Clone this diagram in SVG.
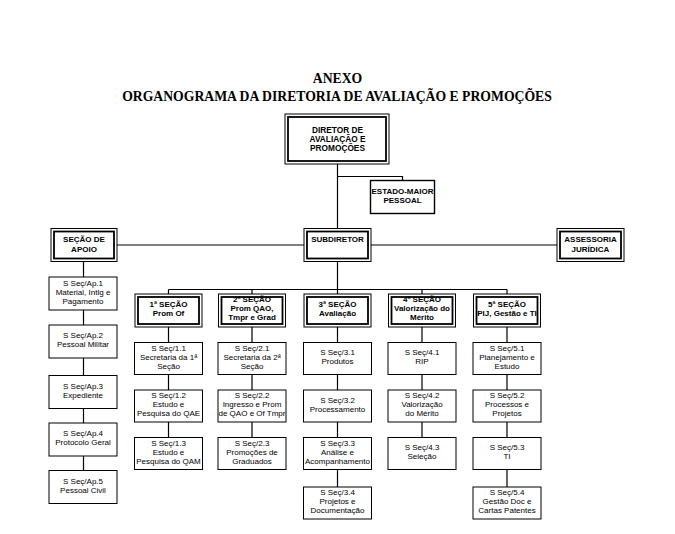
<svg xmlns="http://www.w3.org/2000/svg" width="675" height="534" viewBox="0 0 675 534">
<style>
.bg{fill:#fff}
.o{fill:#fff;stroke:#000;stroke-width:1}
.i{fill:none;stroke:#000;stroke-width:1.8}
.s{fill:#fff;stroke:#000;stroke-width:1}
.em{fill:#fff;stroke:#000;stroke-width:1.4}
.c{fill:none;stroke:#000;stroke-width:1.2}
text{font-family:"Liberation Sans",Arial,sans-serif;text-anchor:middle;fill:#000}
.b{font-size:8px;font-weight:bold}
.d{font-size:8.3px;font-weight:bold}
.t{font-size:8px}
.h{font-family:"Liberation Serif","Times New Roman",serif;font-size:13.7px;font-weight:bold}
</style>
<rect class="bg" x="0" y="0" width="675" height="534"/>
<g id="title">
<text class="h" x="337.5" y="83">ANEXO</text>
<text class="h" x="337" y="101">ORGANOGRAMA DA DIRETORIA DE AVALIAÇÃO E PROMOÇÕES</text>
</g>
<g id="connectors">
<path class="c" d="M337.5 164V228.5M337.5 176.5H402.5V180.5M117 245H304M371 245H557M83.5 261.5V470.5M337.5 261.5V294M168.5 289.5H507M168.5 289.5V294M252 289.5V294M422 289.5V294M507 289.5V294M168.5 327V437.5M252 327V437.5M337.5 327V487M422 327V437.5M507 327V487"/>
</g>
<g id="diretor">
<rect class="o" x="285" y="114" width="104" height="50"/>
<rect class="i" x="288" y="117" width="98" height="44"/>
<text class="d" x="337.5" y="133">DIRETOR DE</text>
<text class="d" x="337.5" y="142">AVALIAÇÃO E</text>
<text class="d" x="337.5" y="151">PROMOÇÕES</text>
</g>
<g id="estado-maior">
<rect class="em" x="370.5" y="180.5" width="64" height="33"/>
<text class="b" x="402.5" y="194">ESTADO-MAIOR</text>
<text class="b" x="402.5" y="202.5">PESSOAL</text>
</g>
<g id="secao-apoio">
<rect class="o" x="51" y="228.5" width="66" height="33"/>
<rect class="i" x="54" y="231.5" width="60" height="27"/>
<text class="b" x="84" y="242.3">SEÇÃO DE</text>
<text class="b" x="84" y="251.5">APOIO</text>
</g>
<g id="subdiretor">
<rect class="o" x="304" y="228.5" width="67" height="33"/>
<rect class="i" x="307" y="231.5" width="61" height="27"/>
<text class="b" x="337.5" y="242.3">SUBDIRETOR</text>
</g>
<g id="assessoria">
<rect class="o" x="557" y="228.5" width="67" height="33"/>
<rect class="i" x="560" y="231.5" width="61" height="27"/>
<text class="b" x="590.5" y="242.3">ASSESSORIA</text>
<text class="b" x="590.5" y="251.5">JURÍDICA</text>
</g>
<g id="secao1">
<rect class="o" x="135" y="294" width="67" height="33"/>
<rect class="i" x="138" y="297" width="61" height="27"/>
<text class="b" x="168.5" y="307.3">1ª SEÇÃO</text>
<text class="b" x="168.5" y="316.3">Prom Of</text>
</g>
<g id="secao2">
<rect class="o" x="218.5" y="294" width="67" height="33"/>
<rect class="i" x="221.5" y="297" width="61" height="27"/>
<text class="b" x="252" y="302.3">2ª SEÇÃO</text>
<text class="b" x="252" y="311.1">Prom QAO,</text>
<text class="b" x="252" y="320">Tmpr e Grad</text>
</g>
<g id="secao3">
<rect class="o" x="304" y="294" width="67" height="33"/>
<rect class="i" x="307" y="297" width="61" height="27"/>
<text class="b" x="337.5" y="307.3">3ª SEÇÃO</text>
<text class="b" x="337.5" y="316.3">Avaliação</text>
</g>
<g id="secao4">
<rect class="o" x="388.5" y="294" width="67" height="33"/>
<rect class="i" x="391.5" y="297" width="61" height="27"/>
<text class="b" x="422" y="302.3">4ª SEÇÃO</text>
<text class="b" x="422" y="311.1">Valorização do</text>
<text class="b" x="422" y="320">Mérito</text>
</g>
<g id="secao5">
<rect class="o" x="473.5" y="294" width="67" height="33"/>
<rect class="i" x="476.5" y="297" width="61" height="27"/>
<text class="b" x="507" y="307.3">5ª SEÇÃO</text>
<text class="b" x="507" y="316.3">PIJ, Gestão e TI</text>
</g>
<g id="ap1"><rect class="s" x="49" y="277" width="68" height="33"/>
<text class="t" x="83" y="285.5">S Seç/Ap.1</text><text class="t" x="83" y="294.5">Material, Intlg e</text><text class="t" x="83" y="303.5">Pagamento</text></g>
<g id="ap2"><rect class="s" x="49" y="325" width="68" height="33"/>
<text class="t" x="83" y="338">S Seç/Ap.2</text><text class="t" x="83" y="347">Pessoal Militar</text></g>
<g id="ap3"><rect class="s" x="49" y="375.5" width="68" height="33"/>
<text class="t" x="83" y="388.5">S Seç/Ap.3</text><text class="t" x="83" y="397.5">Expediente</text></g>
<g id="ap4"><rect class="s" x="49" y="423" width="68" height="33"/>
<text class="t" x="83" y="436">S Seç/Ap.4</text><text class="t" x="83" y="445">Protocolo Geral</text></g>
<g id="ap5"><rect class="s" x="49" y="470.5" width="68" height="33"/>
<text class="t" x="83" y="483.5">S Seç/Ap.5</text><text class="t" x="83" y="492.5">Pessoal Civil</text></g>
<g id="s1-1"><rect class="s" x="134.5" y="342.5" width="68" height="32"/>
<text class="t" x="168.5" y="350.5">S Seç/1.1</text><text class="t" x="168.5" y="359.5">Secretaria da 1ª</text><text class="t" x="168.5" y="368.5">Seção</text></g>
<g id="s1-2"><rect class="s" x="134.5" y="390" width="68" height="32"/>
<text class="t" x="168.5" y="398">S Seç/1.2</text><text class="t" x="168.5" y="407">Estudo e</text><text class="t" x="168.5" y="416">Pesquisa do QAE</text></g>
<g id="s1-3"><rect class="s" x="134.5" y="437.5" width="68" height="32"/>
<text class="t" x="168.5" y="445.5">S Seç/1.3</text><text class="t" x="168.5" y="454.5">Estudo e</text><text class="t" x="168.5" y="463.5">Pesquisa do QAM</text></g>
<g id="s2-1"><rect class="s" x="218" y="342.5" width="68" height="32"/>
<text class="t" x="252" y="350.5">S Seç/2.1</text><text class="t" x="252" y="359.5">Secretaria da 2ª</text><text class="t" x="252" y="368.5">Seção</text></g>
<g id="s2-2"><rect class="s" x="218" y="390" width="68" height="32"/>
<text class="t" x="252" y="398">S Seç/2.2</text><text class="t" x="252" y="407">Ingresso e Prom</text><text class="t" x="252" y="416">de QAO e Of Tmpr</text></g>
<g id="s2-3"><rect class="s" x="218" y="437.5" width="68" height="32"/>
<text class="t" x="252" y="445.5">S Seç/2.3</text><text class="t" x="252" y="454.5">Promoções de</text><text class="t" x="252" y="463.5">Graduados</text></g>
<g id="s3-1"><rect class="s" x="303.5" y="342.5" width="68" height="32"/>
<text class="t" x="337.5" y="355">S Seç/3.1</text><text class="t" x="337.5" y="364">Produtos</text></g>
<g id="s3-2"><rect class="s" x="303.5" y="390" width="68" height="32"/>
<text class="t" x="337.5" y="402.5">S Seç/3.2</text><text class="t" x="337.5" y="411.5">Processamento</text></g>
<g id="s3-3"><rect class="s" x="303.5" y="437.5" width="68" height="32"/>
<text class="t" x="337.5" y="445.5">S Seç/3.3</text><text class="t" x="337.5" y="454.5">Análise e</text><text class="t" x="337.5" y="463.5">Acompanhamento</text></g>
<g id="s3-4"><rect class="s" x="303.5" y="487" width="68" height="32"/>
<text class="t" x="337.5" y="495">S Seç/3.4</text><text class="t" x="337.5" y="504">Projetos e</text><text class="t" x="337.5" y="513">Documentação</text></g>
<g id="s4-1"><rect class="s" x="388" y="342.5" width="68" height="32"/>
<text class="t" x="422" y="355">S Seç/4.1</text><text class="t" x="422" y="364">RIP</text></g>
<g id="s4-2"><rect class="s" x="388" y="390" width="68" height="32"/>
<text class="t" x="422" y="398">S Seç/4.2</text><text class="t" x="422" y="407">Valorização</text><text class="t" x="422" y="416">do Mérito</text></g>
<g id="s4-3"><rect class="s" x="388" y="437.5" width="68" height="32"/>
<text class="t" x="422" y="450">S Seç/4.3</text><text class="t" x="422" y="459">Seleção</text></g>
<g id="s5-1"><rect class="s" x="473" y="342.5" width="68" height="32"/>
<text class="t" x="507" y="350.5">S Seç/5.1</text><text class="t" x="507" y="359.5">Planejamento e</text><text class="t" x="507" y="368.5">Estudo</text></g>
<g id="s5-2"><rect class="s" x="473" y="390" width="68" height="32"/>
<text class="t" x="507" y="398">S Seç/5.2</text><text class="t" x="507" y="407">Processos e</text><text class="t" x="507" y="416">Projetos</text></g>
<g id="s5-3"><rect class="s" x="473" y="437.5" width="68" height="32"/>
<text class="t" x="507" y="450">S Seç/5.3</text><text class="t" x="507" y="459">TI</text></g>
<g id="s5-4"><rect class="s" x="473" y="487" width="68" height="32"/>
<text class="t" x="507" y="495">S Seç/5.4</text><text class="t" x="507" y="504">Gestão Doc e</text><text class="t" x="507" y="513">Cartas Patentes</text></g>
</svg>
